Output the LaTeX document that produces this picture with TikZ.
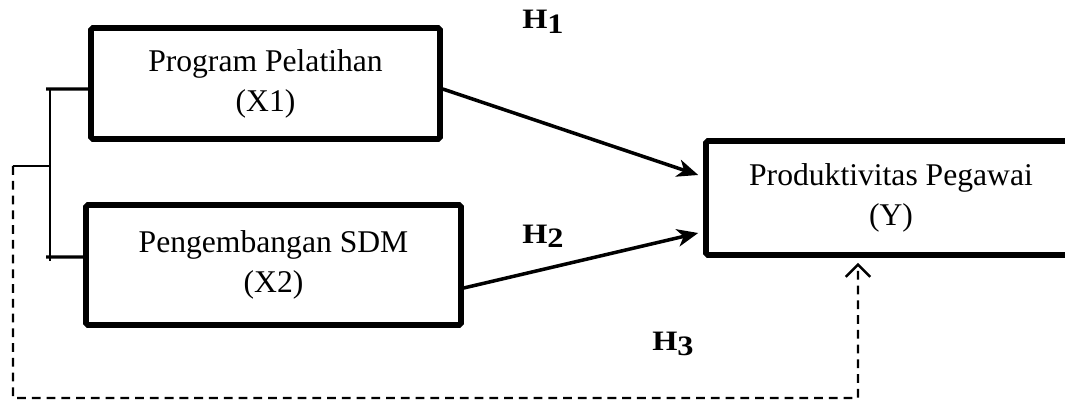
\documentclass[tikz,border=0pt]{standalone}
\usepackage{fontspec}
\setmainfont{Liberation Serif}
\usetikzlibrary{arrows.meta}

\begin{document}
\begin{tikzpicture}[
   x=0.02cm, y=-0.02cm,
   var/.style={rectangle, draw, line width=3.2pt, rounded corners=1pt, inner sep=0pt,
      font=\fontsize{18}{22.7}\selectfont, align=center},
   hyp/.style={font=\fontsize{16}{18}\selectfont\bfseries},
   arrow/.style={-{Stealth[length=12pt,width=10pt,inset=3.5pt]}, line width=2pt},
   dasharrow/.style={-{Straight Barb[length=7pt,width=14pt]}, line width=1.4pt,
      dash pattern=on 5pt off 3.4pt},
   link/.style={line width=1.8pt},
   thin/.style={line width=1pt}
]
\useasboundingbox (0,0) rectangle (1065,401);

% Variables
\node[var, minimum width=6.98cm, minimum height=2.22cm] (x1) at (265.5,83.5)
   {Program Pelatihan\\(X1)};
\node[var, minimum width=7.5cm, minimum height=2.4cm] (x2) at (273.5,265)
   {Pengembangan SDM\\(X2)};
\node[var, minimum width=7.4cm, minimum height=2.28cm] (y) at (891,198)
   {Produktivitas Pegawai\\(Y)};

% Bracket
\coordinate (bt) at (46,89);
\coordinate (bb) at (46,257);
\coordinate (vt) at (50,89);
\coordinate (vb) at (50,261);
\coordinate (vm) at (50,166);
\coordinate (dm) at (13,166);
\draw[link] (bt) -- ([yshift=-0.11cm]x1.west);
\draw[link] (bb) -- ([yshift=0.16cm]x2.west);
\draw[thin] (vt) -- (vb);
\draw[thin] (dm) -- (vm);

% Hypotheses
\draw[arrow] ([yshift=-0.11cm]x1.east) -- ([xshift=-0.1cm, yshift=0.46cm]y.west);
\draw[arrow] ([yshift=-0.46cm]x2.east) -- ([xshift=-0.1cm, yshift=-0.7cm]y.west);
\draw[dasharrow] (dm) -- (13,398) -- (858,398) -- ([xshift=-0.66cm, yshift=-0.1cm]y.south);

\node[hyp] (h1) at (543,22) {\scalebox{1.15}[1]{H\raisebox{-2.5pt}{1}}};
\node[hyp] (h2) at (543,236) {\scalebox{1.15}[1]{H\raisebox{-2.5pt}{2}}};
\node[hyp] (h3) at (673,344) {\scalebox{1.15}[1]{H\raisebox{-2.5pt}{3}}};

\end{tikzpicture}
\end{document}
